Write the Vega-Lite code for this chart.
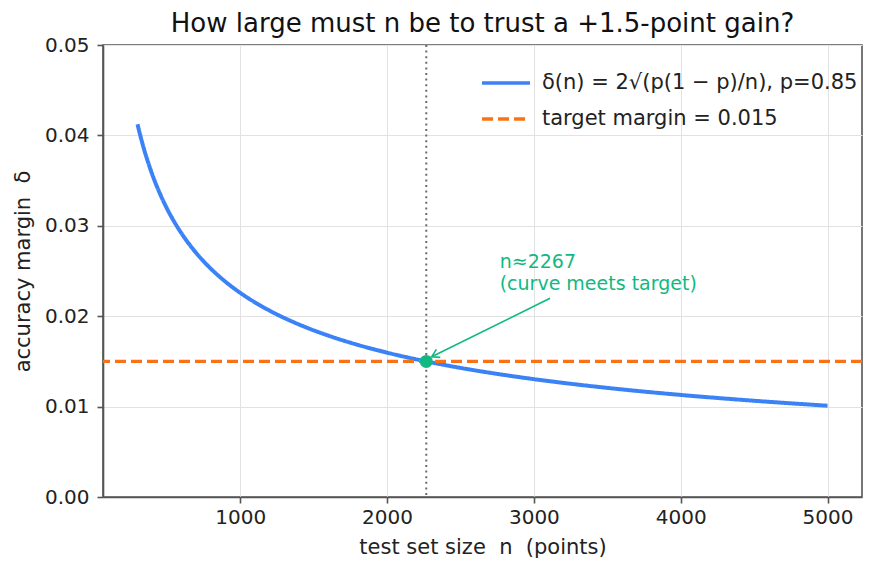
{
  "$schema": "https://vega.github.io/schema/vega-lite/v6.json",
  "width": 759,
  "height": 452,
  "autosize": {"type": "none"},
  "padding": {"left": 103, "top": 45, "right": 14, "bottom": 76},
  "background": "white",
  "config": {
    "font": "DejaVu Sans",
    "view": {"stroke": "#555555", "strokeWidth": 1.6},
    "axis": {
      "labelFont": "DejaVu Sans",
      "titleFont": "DejaVu Sans",
      "labelFontSize": 20,
      "titleFontSize": 21,
      "titleFontWeight": "normal",
      "labelColor": "#222222",
      "titleColor": "#222222",
      "domainColor": "#555555",
      "domainWidth": 1.6,
      "tickColor": "#555555",
      "tickWidth": 1.6,
      "tickSize": 6,
      "gridColor": "#e2e2e2",
      "gridWidth": 1
    },
    "legend": {
      "labelFont": "DejaVu Sans",
      "labelFontSize": 21,
      "labelColor": "#222222",
      "labelLimit": 0
    }
  },
  "title": {
    "text": "How large must n be to trust a +1.5-point gain?",
    "fontSize": 26,
    "fontWeight": "normal",
    "color": "#111111",
    "anchor": "middle",
    "frame": "group",
    "baseline": "bottom",
    "offset": 8,
    "dy": 36
  },
  "datasets": {
    "curve": [
      {"n": 300, "delta": 0.041231, "series": "δ(n) = 2√(p(1 − p)/n), p=0.85"},
      {"n": 325, "delta": 0.039613, "series": "δ(n) = 2√(p(1 − p)/n), p=0.85"},
      {"n": 350, "delta": 0.038173, "series": "δ(n) = 2√(p(1 − p)/n), p=0.85"},
      {"n": 375, "delta": 0.036878, "series": "δ(n) = 2√(p(1 − p)/n), p=0.85"},
      {"n": 400, "delta": 0.035707, "series": "δ(n) = 2√(p(1 − p)/n), p=0.85"},
      {"n": 450, "delta": 0.033665, "series": "δ(n) = 2√(p(1 − p)/n), p=0.85"},
      {"n": 500, "delta": 0.031937, "series": "δ(n) = 2√(p(1 − p)/n), p=0.85"},
      {"n": 550, "delta": 0.030451, "series": "δ(n) = 2√(p(1 − p)/n), p=0.85"},
      {"n": 600, "delta": 0.029155, "series": "δ(n) = 2√(p(1 − p)/n), p=0.85"},
      {"n": 650, "delta": 0.028011, "series": "δ(n) = 2√(p(1 − p)/n), p=0.85"},
      {"n": 700, "delta": 0.026992, "series": "δ(n) = 2√(p(1 − p)/n), p=0.85"},
      {"n": 750, "delta": 0.026077, "series": "δ(n) = 2√(p(1 − p)/n), p=0.85"},
      {"n": 800, "delta": 0.025249, "series": "δ(n) = 2√(p(1 − p)/n), p=0.85"},
      {"n": 900, "delta": 0.023805, "series": "δ(n) = 2√(p(1 − p)/n), p=0.85"},
      {"n": 1000, "delta": 0.022583, "series": "δ(n) = 2√(p(1 − p)/n), p=0.85"},
      {"n": 1200, "delta": 0.020616, "series": "δ(n) = 2√(p(1 − p)/n), p=0.85"},
      {"n": 1400, "delta": 0.019086, "series": "δ(n) = 2√(p(1 − p)/n), p=0.85"},
      {"n": 1600, "delta": 0.017854, "series": "δ(n) = 2√(p(1 − p)/n), p=0.85"},
      {"n": 1800, "delta": 0.016832, "series": "δ(n) = 2√(p(1 − p)/n), p=0.85"},
      {"n": 2000, "delta": 0.015969, "series": "δ(n) = 2√(p(1 − p)/n), p=0.85"},
      {"n": 2267, "delta": 0.014999, "series": "δ(n) = 2√(p(1 − p)/n), p=0.85"},
      {"n": 2500, "delta": 0.014283, "series": "δ(n) = 2√(p(1 − p)/n), p=0.85"},
      {"n": 2750, "delta": 0.013618, "series": "δ(n) = 2√(p(1 − p)/n), p=0.85"},
      {"n": 3000, "delta": 0.013038, "series": "δ(n) = 2√(p(1 − p)/n), p=0.85"},
      {"n": 3500, "delta": 0.012071, "series": "δ(n) = 2√(p(1 − p)/n), p=0.85"},
      {"n": 4000, "delta": 0.011292, "series": "δ(n) = 2√(p(1 − p)/n), p=0.85"},
      {"n": 4500, "delta": 0.010646, "series": "δ(n) = 2√(p(1 − p)/n), p=0.85"},
      {"n": 5000, "delta": 0.010099, "series": "δ(n) = 2√(p(1 − p)/n), p=0.85"}
    ],
    "target": [{"delta": 0.015, "series": "target margin = 0.015"}],
    "meet": [{"n": 2267, "delta": 0.015}],
    "arrow": [{"n": 3110, "delta": 0.02198, "n2": 2304, "delta2": 0.01552}],
    "note": [{"n": 2767, "delta": 0.023, "label": ["n≈2267", "(curve meets target)"]}]
  },
  "encoding": {
    "x": {
      "field": "n",
      "type": "quantitative",
      "scale": {"domain": [65, 5235], "nice": false, "zero": false},
      "axis": {
        "title": "test set size\u00a0 n\u00a0 (points)",
        "values": [1000, 2000, 3000, 4000, 5000],
        "format": "d",
        "labelPadding": 4,
        "titlePadding": 9
      }
    },
    "y": {
      "field": "delta",
      "type": "quantitative",
      "scale": {"domain": [0, 0.05], "nice": false},
      "axis": {
        "title": "accuracy margin\u00a0 δ",
        "values": [0, 0.01, 0.02, 0.03, 0.04, 0.05],
        "format": ".2f",
        "labelPadding": 8,
        "titlePadding": 11
      }
    }
  },
  "layer": [
    {
      "data": {"name": "meet"},
      "mark": {"type": "rule", "color": "#6b6b6b", "strokeWidth": 2, "strokeDash": [2, 3.6]},
      "encoding": {"y": null}
    },
    {
      "data": {"name": "curve"},
      "mark": {"type": "line", "strokeWidth": 4, "interpolate": "monotone"},
      "encoding": {
        "color": {
          "field": "series",
          "type": "nominal",
          "scale": {
            "domain": ["δ(n) = 2√(p(1 − p)/n), p=0.85", "target margin = 0.015"],
            "range": ["#3b82f6", "#f97316"]
          },
          "legend": {
            "title": null,
            "orient": "none",
            "legendX": 377,
            "legendY": 12,
            "symbolType": "stroke",
            "symbolSize": 2300,
            "symbolStrokeWidth": 3.5,
            "labelOffset": 10,
            "rowPadding": -5.5,
            "padding": 0
          }
        },
        "strokeDash": {
          "field": "series",
          "type": "nominal",
          "scale": {
            "domain": ["δ(n) = 2√(p(1 − p)/n), p=0.85", "target margin = 0.015"],
            "range": [[1, 0], [11, 5]]
          },
          "legend": {
            "title": null,
            "orient": "none",
            "legendX": 377,
            "legendY": 12,
            "symbolType": "stroke",
            "symbolSize": 2300,
            "symbolStrokeWidth": 3.5,
            "labelOffset": 10,
            "rowPadding": -5.5,
            "padding": 0
          }
        }
      }
    },
    {
      "data": {"name": "target"},
      "mark": {"type": "rule", "strokeWidth": 3.3},
      "encoding": {
        "x": null,
        "color": {"field": "series", "type": "nominal"},
        "strokeDash": {"field": "series", "type": "nominal"}
      }
    },
    {
      "data": {"name": "arrow"},
      "mark": {"type": "rule", "color": "#10b981", "strokeWidth": 1.6},
      "encoding": {
        "x2": {"field": "n2"},
        "y2": {"field": "delta2"}
      }
    },
    {
      "data": {"name": "arrow"},
      "mark": {
        "type": "point",
        "shape": "M -1 -0.6 L 0 0 L -1 0.6",
        "filled": false,
        "color": "#10b981",
        "strokeWidth": 1.6,
        "size": 220,
        "angle": 153.7,
        "opacity": 1
      },
      "encoding": {
        "x": {"field": "n2", "type": "quantitative"},
        "y": {"field": "delta2", "type": "quantitative"}
      }
    },
    {
      "data": {"name": "meet"},
      "mark": {"type": "point", "shape": "circle", "filled": true, "color": "#10b981", "size": 170, "opacity": 1}
    },
    {
      "data": {"name": "note"},
      "mark": {
        "type": "text",
        "align": "left",
        "baseline": "alphabetic",
        "fontSize": 19,
        "lineHeight": 22,
        "dy": -21,
        "color": "#10b981"
      },
      "encoding": {"text": {"field": "label"}}
    }
  ]
}
